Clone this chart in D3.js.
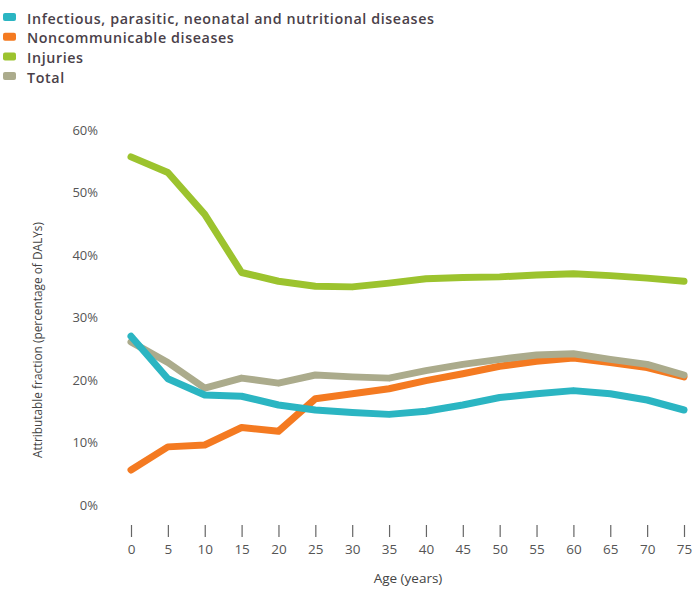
<!DOCTYPE html>
<html>
<head>
<meta charset="utf-8">
<script src="https://cdn.jsdelivr.net/npm/d3@7"></script>
<style>
  body { margin: 0; background: #fff; }
  text { font-family: "Open Sans", "Noto Sans", sans-serif; }
</style>
</head>
<body>
<div id="chart"></div>
<script>
'use strict';
// data (percent of DALYs)
var ages = [0, 5, 10, 15, 20, 25, 30, 35, 40, 45, 50, 55, 60, 65, 70, 75];
var infectious = [27.0, 20.2, 17.6, 17.4, 16.0, 15.2, 14.8, 14.5, 15.0, 16.0, 17.2, 17.8, 18.3, 17.8, 16.8, 15.2];
var noncommunicable = [5.6, 9.3, 9.6, 12.4, 11.8, 17.0, 17.8, 18.6, 19.9, 21.0, 22.2, 23.0, 23.5, 22.8, 22.0, 20.5];
var injuries = [55.7, 53.2, 46.5, 37.2, 35.8, 35.0, 34.9, 35.5, 36.2, 36.4, 36.5, 36.8, 37.0, 36.7, 36.3, 35.8];
var total = [26.1, 22.8, 18.7, 20.3, 19.5, 20.8, 20.5, 20.3, 21.5, 22.5, 23.3, 24.0, 24.2, 23.3, 22.5, 20.8];
var yTicks = [0, 10, 20, 30, 40, 50, 60];

var seriesNames = ['Infectious, parasitic, neonatal and nutritional diseases',
                   'Noncommunicable diseases', 'Injuries', 'Total'];
var colors = ['#2bb5c2', '#f47a21', '#9cc32e', '#abab8c'];

var width = 694, height = 590;

var svg = d3.select('#chart').append('svg')
    .attr('width', width)
    .attr('height', height);

// scales
var x = d3.scaleLinear().domain([0, 75]).range([131, 684]);
var y = d3.scaleLinear().domain([0, 60]).range([505, 130]);

// legend
var legend = svg.append('g');
seriesNames.forEach(function(name, i) {
  var row = legend.append('g')
      .attr('transform', 'translate(0,' + (18 + i * 19.7) + ')');
  row.append('rect')
      .attr('x', 3).attr('y', -5)
      .attr('width', 13).attr('height', 8)
      .attr('rx', 2)
      .attr('fill', colors[i]);
  row.append('text')
      .attr('x', 27).attr('y', 5.5)
      .style('font-size', '14.3px')
      .style('font-weight', 600)
      .style('letter-spacing', '0.6px')
      .attr('fill', '#4a3f49')
      .text(name);
});

// y axis
var yAxis = svg.append('g')
    .attr('transform', 'translate(100,0)')
    .call(d3.axisLeft(y).tickValues(yTicks).tickSize(0).tickPadding(2)
      .tickFormat(function(d) { return d + '%'; }));
yAxis.select('.domain').remove();
yAxis.selectAll('text')
    .style('font-size', '13px')
    .style('font-family', '"Open Sans", sans-serif')
    .attr('fill', '#555');

// y axis label
svg.append('text')
    .attr('transform', 'translate(42,' + 340 + ') rotate(-90)')
    .style('text-anchor', 'middle')
    .style('font-size', '12.5px')
    .attr('textLength', 236)
    .attr('lengthAdjust', 'spacingAndGlyphs')
    .attr('fill', '#444')
    .text('Attributable fraction (percentage of DALYs)');

// x axis
var xAxis = svg.append('g')
    .attr('transform', 'translate(0,525)')
    .call(d3.axisBottom(x).tickValues(ages).tickSize(12).tickPadding(7));
xAxis.select('.domain').remove();
xAxis.selectAll('line').attr('stroke', '#666').attr('stroke-width', 1.2);
xAxis.selectAll('text')
    .style('font-size', '13.5px')
    .style('font-family', '"Open Sans", sans-serif')
    .attr('fill', '#555');

// x axis label
svg.append('text')
    .attr('x', 408).attr('y', 583)
    .style('text-anchor', 'middle')
    .style('font-size', '13.5px')
    .attr('fill', '#444')
    .text('Age (years)');

// lines
var line = d3.line()
    .x(function(d, i) { return x(ages[i]); })
    .y(function(d) { return y(d); });

var drawOrder = [1, 3, 0, 2];
var seriesData = [infectious, noncommunicable, injuries, total];
drawOrder.forEach(function(k) {
  svg.append('path')
      .datum(seriesData[k])
      .attr('fill', 'none')
      .attr('stroke', colors[k])
      .attr('stroke-width', 7)
      .attr('stroke-linejoin', 'round')
      .attr('stroke-linecap', 'round')
      .attr('d', line);
});
</script>
</body>
</html>
